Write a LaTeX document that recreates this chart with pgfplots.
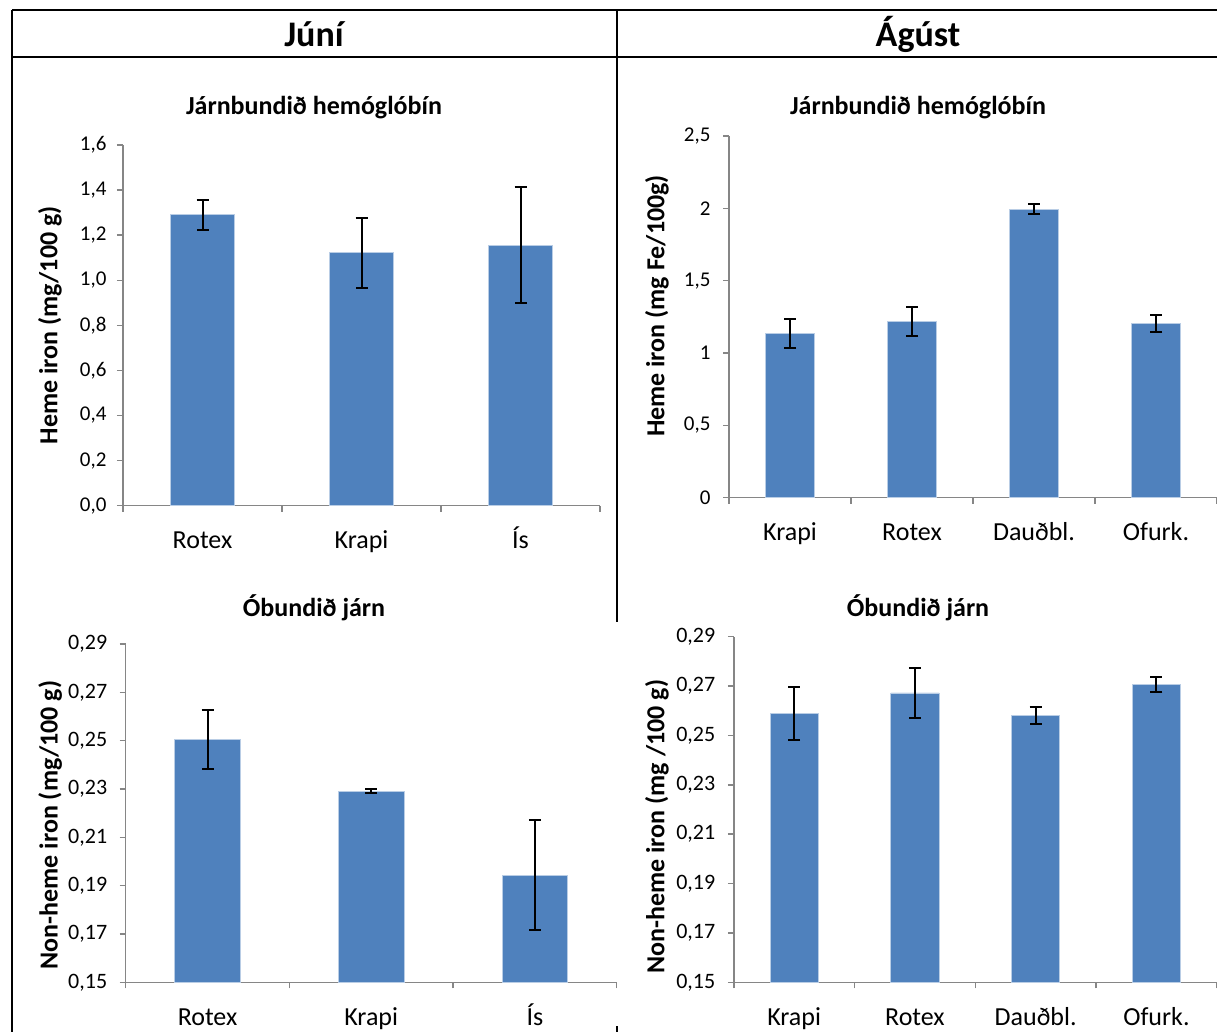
\documentclass[border=0pt]{standalone}
\usepackage{pgfplots}
\pgfplotsset{compat=1.18}
\usepackage{fontspec}
\setmainfont{Carlito}
\definecolor{barblue}{HTML}{4F81BD}
\definecolor{baredge}{HTML}{B9CDE5}
\definecolor{axgray}{HTML}{868686}
\pgfplotsset{
  excelbar/.style={
    scale only axis,
    anchor=south west,
    axis x line*=bottom, axis y line*=left,
    axis line style={axgray, line width=1.5pt, -},
    ybar, bar width=0.4, bar shift=0pt,
    tick align=outside,
    major tick length=6pt,
    tick style={axgray, line width=1.5pt},
    x tick label as interval,
    /pgf/number format/assume math mode=true,
    xticklabel style={font=\fontsize{26}{30}\selectfont, anchor=base, yshift=-36.8pt},
    ylabel style={font=\bfseries\fontsize{26}{30}\selectfont, anchor=center},
    error bars/error bar style={black, line width=2pt},
    error bars/error mark options={rotate=90, mark size=6pt, line width=2pt, black},
  },
  barplot/.style={fill=barblue, draw=baredge, line width=0.8pt,
    error bars/.cd, y dir=both, y explicit},
}
\begin{document}
\begin{tikzpicture}
\useasboundingbox (0pt,0pt) rectangle (1217pt,-1032pt);
% frame
\draw[line width=2.5pt] (12pt,-10pt) -- (1217pt,-10pt);
\draw[line width=2.5pt] (12pt,-57pt) -- (1217pt,-57pt);
\draw[line width=2.5pt] (12pt,-10pt) -- (12pt,-1032pt);
\draw[line width=2.5pt] (617pt,-10pt) -- (617pt,-622pt);
\draw[line width=2.5pt] (617pt,-1026pt) -- (617pt,-1032pt);
\node[font=\bfseries\fontsize{36}{40}\selectfont, anchor=base] at (314pt,-47pt) {Júní};
\node[font=\bfseries\fontsize{36}{40}\selectfont, anchor=base] at (918pt,-47pt) {Ágúst};
\node[font=\bfseries\fontsize{26}{30}\selectfont, anchor=base] at (314pt,-115pt) {Járnbundið hemóglóbín};
\node[font=\bfseries\fontsize{26}{30}\selectfont, anchor=base] at (918pt,-115pt) {Járnbundið hemóglóbín};
\node[font=\bfseries\fontsize{26}{30}\selectfont, anchor=base] at (314pt,-616pt) {Óbundið járn};
\node[font=\bfseries\fontsize{26}{30}\selectfont, anchor=base] at (918pt,-616pt) {Óbundið járn};

% Top left
\begin{axis}[excelbar, at={(123pt,-505.7pt)}, width=477pt, height=360.7pt,
  xmin=-0.5, xmax=2.5, ymin=0, ymax=1.6,
  xtick={-0.5,0.5,1.5,2.5}, xticklabels={Rotex,Krapi,Ís,},
  ytick={0,0.2,0.4,0.6,0.8,1.0,1.2,1.4,1.6},
  yticklabel style={font=\fontsize{21}{23}\selectfont, xshift=-7pt, /pgf/number format/.cd, fixed, fixed zerofill, precision=1, use comma},
  ylabel={Heme iron (mg/100 g)},
  ylabel style={at={(axis description cs:-0.153,0.5)}}]
\addplot[barplot] coordinates {(0,1.29) +- (0,0.068) (1,1.122) +- (0,0.156) (2,1.155) +- (0,0.258)};
\end{axis}

% Top right
\begin{axis}[excelbar, at={(729pt,-497.7pt)}, width=488pt, height=361.7pt,
  xmin=-0.5, xmax=3.5, ymin=0, ymax=2.5,
  xtick={-0.5,0.5,1.5,2.5,3.5}, xticklabels={Krapi,Rotex,Dauðbl.,Ofurk.,},
  ytick={0,0.5,1,1.5,2,2.5},
  yticklabel style={font=\fontsize{21}{23}\selectfont, xshift=-9pt, /pgf/number format/.cd, fixed, precision=1, use comma},
  ylabel={Heme iron (mg Fe/100g)},
  ylabel style={at={(axis description cs:-0.1475,0.53)}}]
\addplot[barplot] coordinates {(0,1.135) +- (0,0.10) (1,1.22) +- (0,0.10) (2,1.995) +- (0,0.035) (3,1.205) +- (0,0.059)};
\end{axis}

% Bottom left
\begin{axis}[excelbar, at={(125.7pt,-982.3pt)}, width=491pt, height=338.3pt,
  xmin=-0.5, xmax=2.5, ymin=0.15, ymax=0.29,
  xtick={-0.5,0.5,1.5,2.5}, xticklabels={Rotex,Krapi,Ís,},
  ytick={0.15,0.17,0.19,0.21,0.23,0.25,0.27,0.29},
  yticklabel style={font=\fontsize{22}{24}\selectfont, xshift=-9pt, /pgf/number format/.cd, fixed, fixed zerofill, precision=2, use comma},
  ylabel={Non-heme iron (mg/100 g)},
  ylabel style={at={(axis description cs:-0.154,0.465)}}]
\addplot[barplot] coordinates {(0,0.2504) +- (0,0.0123) (1,0.2290) +- (0,0.0008) (2,0.1944) +- (0,0.0228)};
\end{axis}

% Bottom right
\begin{axis}[excelbar, at={(733.8pt,-982.3pt)}, width=483pt, height=345.6pt,
  xmin=-0.5, xmax=3.5, ymin=0.15, ymax=0.29,
  xtick={-0.5,0.5,1.5,2.5,3.5}, xticklabels={Krapi,Rotex,Dauðbl.,Ofurk.,},
  ytick={0.15,0.17,0.19,0.21,0.23,0.25,0.27,0.29},
  yticklabel style={font=\fontsize{22}{24}\selectfont, xshift=-9pt, /pgf/number format/.cd, fixed, fixed zerofill, precision=2, use comma},
  ylabel={Non-heme iron (mg /100 g)},
  ylabel style={at={(axis description cs:-0.159,0.45)}}]
\addplot[barplot] coordinates {(0,0.2590) +- (0,0.0107) (1,0.2672) +- (0,0.0100) (2,0.2582) +- (0,0.0035) (3,0.2707) +- (0,0.0029)};
\end{axis}
\end{tikzpicture}
\end{document}
